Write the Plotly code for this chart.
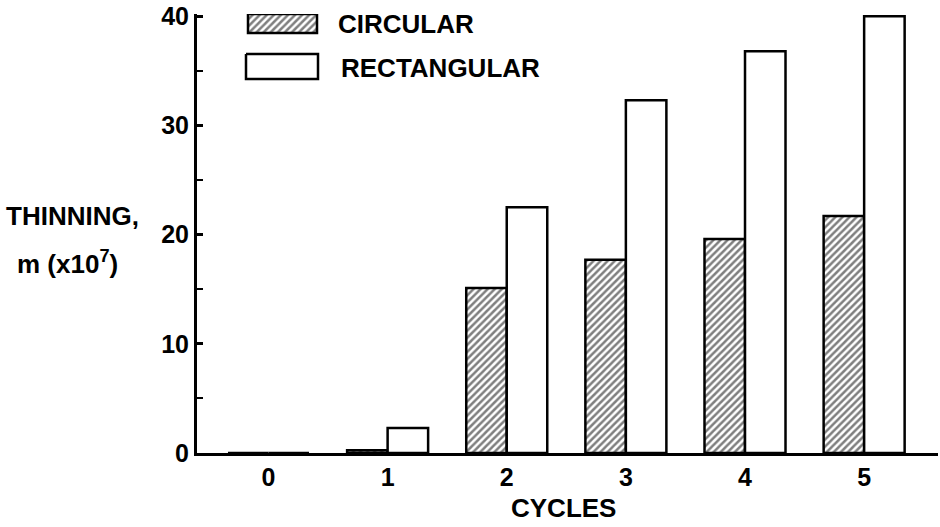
import plotly.graph_objects as go

cycles = [0, 1, 2, 3, 4, 5]
circular = [0.0, 0.25, 15.1, 17.7, 19.6, 21.7]
rectangular = [0.0, 2.3, 22.5, 32.3, 36.8, 40.0]
ytick_vals = [0, 10, 20, 30, 40]
series_names = ["CIRCULAR", "RECTANGULAR"]

FONT = "Liberation Sans"
W, H = 940, 527
ML, MR, MT, MB = 197, 2, 14, 74
PW, PH = W - ML - MR, H - MT - MB


def px(x):
    return (x - ML) / PW


def py(y):
    return (H - MB - y) / PH


fig = go.Figure()
hatch = dict(shape="/", fgcolor="black", bgcolor="white", size=5, solidity=0.5)
fig.add_trace(go.Bar(
    x=cycles, y=circular, name=series_names[0],
    marker=dict(color="white", line=dict(color="black", width=2.5), pattern=hatch),
    showlegend=False))
fig.add_trace(go.Bar(
    x=cycles, y=rectangular, name=series_names[1],
    marker=dict(color="white", line=dict(color="black", width=2.5)),
    showlegend=False))

# legend swatches drawn on a pixel overlay
fig.add_trace(go.Scatter(
    x=[248, 317, 317, 248, 248], y=[14, 14, 33, 33, 14], xaxis="x2", yaxis="y2",
    mode="lines", fill="toself", fillcolor="white", fillpattern=hatch,
    line=dict(color="black", width=2.5), showlegend=False, hoverinfo="skip"))
fig.add_trace(go.Scatter(
    x=[246, 318, 318, 246, 246], y=[54, 54, 79, 79, 54], xaxis="x2", yaxis="y2",
    mode="lines", line=dict(color="black", width=2.5), showlegend=False, hoverinfo="skip"))

tf = dict(family=FONT, size=26, color="black", weight="bold")
tk = dict(family=FONT, size=25, color="black", weight="bold")


def note(x, y, text, anchor="left"):
    fig.add_annotation(x=px(x), y=py(y), xref="paper", yref="paper", text=text,
                       showarrow=False, xanchor=anchor, yanchor="middle", font=tf)


note(336, 24, series_names[0])
note(339, 68, series_names[1])
note(4, 216, "THINNING,")
note(15, 262, "m (x10<sup>7</sup>)")
note(563, 508, "CYCLES", "center")

fig.update_layout(
    width=W, height=H, margin=dict(l=ML, r=MR, t=MT, b=MB),
    paper_bgcolor="white", plot_bgcolor="white",
    barmode="group", bargap=0.32, bargroupgap=0,
    font=dict(family=FONT, size=24, color="black", weight="bold"),
    xaxis=dict(range=[-0.6, 5.62], tickvals=cycles, ticktext=[str(c) for c in cycles],
               showgrid=False, zeroline=False, showline=True, linecolor="black", linewidth=3,
               ticks="", tickfont=tk),
    yaxis=dict(range=[0, 40.2], tickvals=ytick_vals, showgrid=False, zeroline=False,
               showline=True, linecolor="black", linewidth=3,
               ticks="inside", ticklen=6, tickwidth=2.5, tickcolor="black", tickfont=tk,
               minor=dict(dtick=5, ticks="inside", ticklen=6, tickwidth=2, tickcolor="black")),
    xaxis2=dict(range=[ML, W - MR], overlaying="x", visible=False, fixedrange=True),
    yaxis2=dict(range=[H - MB, MT], overlaying="y", visible=False, fixedrange=True),
)

fig.write_html("out.html", config={"displayModeBar": False},
               post_script="document.body.style.margin='0px';document.body.style.overflow='hidden';")
